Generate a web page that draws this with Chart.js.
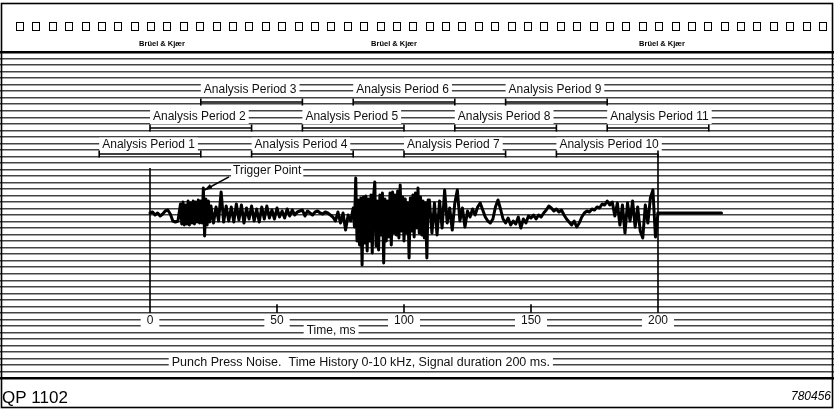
<!DOCTYPE html>
<html>
<head>
<meta charset="utf-8">
<script src="https://cdn.jsdelivr.net/npm/chart.js@4.4.1/dist/chart.umd.min.js"></script>
<style>
html, body { margin: 0; padding: 0; background: #fff; }
canvas { display: block; }
</style>
</head>
<body>
<canvas id="c" width="834" height="409"></canvas>
<script>
// ---- Punch press noise: time history, 0-10 kHz, 200 ms record ----
// The record is stored as blocks of equally spaced samples (arbitrary amplitude units);
// the impact bursts are sampled twice as finely as the quieter stretches.

// 0-11 ms: pen at rest, then a small drop just before the first impact
const ampLead = [0, 1, -2, 0, -3, -1, 2, 3, -1, -8, -9, -8];

// 12-23.5 ms: first impact, 0.5 ms spacing
const ampBurst1 = [
  9, -11, 11, -12, 8, -11, 12, -12, 10, -10, 12, -11,
  11, -9, 13, -10, 12, -10, 25, -23, 14, -12, 12, -9
];

// 24-79 ms: decaying ring-down
const ampRing = [
  7, -10, 6, -8, 21, -9,
  7, -8, 6, -9, 9, -7, 8, -10, 5, -6,
  7, -8, 4, -9, 6, -6, 7, -5, 3, -6,
  5, -4, 2, -5, 4, -3, 3, -2, 1, 2,
  3, -3, 2, 0, -2, 1, 2, 0, -1, 1,
  0, -2, -4, -8, 1, -10, 0, -17, -2, -8
];

// 80-109.5 ms: main punch impact, 0.5 ms spacing
const ampBurst2 = [
  5, -14, 35, -28, 13, -32, 15, -52, 16, -30,
  17, -38, 14, -28, 18, -40, 16, 31, -33, 12,
  -37, 18, -22, 20, -50, 14, -28, 12, -24, 20,
  -32, 21, -20, 18, -22, 22, -25, 28, -18, 16,
  -28, 14, -20, 10, -45, 15, -18, 18, -24, 20,
  -15, 25, -20, 16, -22, 12, -25, 10, -45, 13
];

// 110-200 ms: tail of the impact, stripper return near the end
const ampTail = [
  13, -20, 10, -22, 12, -15, 23, -10, 5, -17,
  10, 23, -8, 5, -14, 2, -4, 4, -2, 6,
  10, 3, -4, -8, -10, -6, 6, 13, 4, -6,
  -10, -5, -12, -8, -11, -4, -15, -6, -10, -3,
  -5, -2, -6, -2, -4, 0, 3, 7, 5, 2,
  4, 1, 3, -2, -6, -9, -12, -8, -14, -10,
  -4, 0, 2, 1, 4, 3, 6, 5, 9, 8,
  12, 8, 11, -3, 10, -12, 8, -20, 10, -8,
  12, -14, 6, -18, -25, 8, -10, 15, 23, -24,
  0
];

const blockStartMs = [0, 12, 24, 80, 110];
const blockStepMs  = [1, 0.5, 1, 0.5, 1];
const blockAmp     = [ampLead, ampBurst1, ampRing, ampBurst2, ampTail];

// the pen keeps running at rest after the record ends
const restMs = [200, 225];
const restAmp = [0, 0];

// overlapping analysis windows (ms)
const periodNames = [
  'Analysis Period 1', 'Analysis Period 2', 'Analysis Period 3',
  'Analysis Period 4', 'Analysis Period 5', 'Analysis Period 6',
  'Analysis Period 7', 'Analysis Period 8', 'Analysis Period 9',
  'Analysis Period 10', 'Analysis Period 11'
];
const periodStart = [-20, 0, 20, 40, 60, 80, 100, 120, 140, 160, 180];
const periodEnd   = [20, 40, 60, 80, 100, 120, 140, 160, 180, 200, 220];

// time axis
const timeTicks = [0, 50, 100, 150, 200];
const timeTickLabels = ['0', '50', '100', '150', '200'];
const triggerMs = 21.5;

// ---- paper geometry ----
const PX_PER_MS = 2.54;
const ZERO_PX = 150;
const ROW_PX = 6.52;        // pitch of the ruled lines
const FIRST_ROW_PX = 52;
const BASE_PX = 213;        // resting pen position
const W = 834, H = 409;
const rowLines = Array.from({ length: 51 }, (_, i) => i);

const laneText = [5.83, 9.97, 14.2];
const laneBracket = [7.67, 11.66, 15.64];
const FONT = '"Liberation Sans", Arial, Helvetica, sans-serif';

const signalData = [];
blockAmp.forEach((amps, b) => {
  amps.forEach((a, i) => signalData.push({ x: blockStartMs[b] + i * blockStepMs[b], y: a }));
});
const restData = restMs.map((t, i) => ({ x: t, y: restAmp[i] }));

const penLine = {
  borderColor: '#000', borderWidth: 3, pointRadius: 0,
  borderJoinStyle: 'round', borderCapStyle: 'round', tension: 0,
  xAxisID: 'x', yAxisID: 'amp'
};

const bracketSets = periodNames.map((name, i) => {
  const lane = 2 - (i % 3);
  return {
    label: name,
    data: [{ x: periodStart[i], y: laneBracket[lane] }, { x: periodEnd[i], y: laneBracket[lane] }],
    borderColor: '#000', borderWidth: 1.6,
    pointStyle: 'line', rotation: 90, pointRadius: 3.5,
    pointBorderWidth: 1.6, pointBorderColor: '#000',
    xAxisID: 'x', yAxisID: 'row'
  };
});

const frameLine = (t, r0, r1, w) => ({
  data: [{ x: t, y: r0 }, { x: t, y: r1 }],
  borderColor: '#000', borderWidth: w, pointRadius: 0,
  xAxisID: 'x', yAxisID: 'row'
});

const frameSets = [
  frameLine(0, 17.8, 40, 1.6),
  frameLine(200, 15.64, 40, 1.6),
  ...timeTicks.slice(1, -1).map(t => frameLine(t, 38.7, 40, 1.6))
];

function boxedText(ctx, text, x, y, align, pad) {
  ctx.textAlign = align;
  const w = ctx.measureText(text).width;
  const left = align === 'center' ? x - w / 2 : x;
  ctx.fillStyle = '#fff';
  ctx.fillRect(left - pad, y - 7, w + 2 * pad, 14);
  ctx.fillStyle = '#111';
  ctx.fillText(text, x, y);
}

const paper = {
  id: 'paper',
  beforeDraw(chart) {
    const ctx = chart.ctx;
    ctx.save();
    ctx.fillStyle = '#fff';
    ctx.fillRect(0, 0, W, H);
    ctx.restore();
  },
  beforeDatasetsDraw(chart) {
    const ctx = chart.ctx;
    const xs = chart.scales.x, rs = chart.scales.row;
    ctx.save();
    ctx.textBaseline = 'middle';

    // window captions
    ctx.font = '12px ' + FONT;
    periodNames.forEach((name, i) => {
      const lane = 2 - (i % 3);
      boxedText(ctx, name, xs.getPixelForValue(periodStart[i]) + 3, rs.getPixelForValue(laneText[lane]), 'left', 3);
    });

    // time axis labels
    timeTicks.forEach((t, i) => {
      boxedText(ctx, timeTickLabels[i], xs.getPixelForValue(t), rs.getPixelForValue(41.26), 'center', 6);
    });
    boxedText(ctx, 'Time, ms', xs.getPixelForValue(71.3), rs.getPixelForValue(42.8), 'center', 3);
    ctx.font = '12.5px ' + FONT;
    boxedText(ctx, 'Punch Press Noise.  Time History 0-10 kHz, Signal duration 200 ms.',
      xs.getPixelForValue(83), rs.getPixelForValue(47.7), 'center', 3);

    // trigger marker
    ctx.font = '12px ' + FONT;
    const tx = xs.getPixelForValue(32.7), ty = rs.getPixelForValue(18.25);
    boxedText(ctx, 'Trigger Point', tx, ty, 'left', 2);
    const ax0 = xs.getPixelForValue(31.1), ay0 = rs.getPixelForValue(19.15);
    const ax1 = xs.getPixelForValue(triggerMs), ay1 = rs.getPixelForValue(21.17);
    ctx.strokeStyle = '#000';
    ctx.lineWidth = 1.6;
    ctx.beginPath();
    ctx.moveTo(ax0, ay0);
    ctx.lineTo(ax1, ay1);
    ctx.stroke();
    const ang = Math.atan2(ay1 - ay0, ax1 - ax0);
    ctx.fillStyle = '#000';
    ctx.beginPath();
    ctx.moveTo(ax1, ay1);
    ctx.lineTo(ax1 - 8 * Math.cos(ang - 0.35), ay1 - 8 * Math.sin(ang - 0.35));
    ctx.lineTo(ax1 - 8 * Math.cos(ang + 0.35), ay1 - 8 * Math.sin(ang + 0.35));
    ctx.closePath();
    ctx.fill();
    ctx.restore();
  },
  afterDraw(chart) {
    const ctx = chart.ctx;
    ctx.save();
    // sprocket holes along the paper edge
    ctx.strokeStyle = '#000';
    ctx.lineWidth = 1;
    const holes = 50, hx0 = 20, hx1 = 823;
    for (let i = 0; i < holes; i++) {
      const cx = hx0 + (hx1 - hx0) * i / (holes - 1);
      ctx.strokeRect(Math.round(cx - 4) + 0.5, 22.5, 7, 8);
    }
    // maker's imprint
    ctx.fillStyle = '#000';
    ctx.font = 'bold 7.5px ' + FONT;
    ctx.textAlign = 'center';
    ctx.textBaseline = 'middle';
    [162, 394, 662].forEach(x => ctx.fillText('Brüel & Kjær', x, 44));

    // paper outline
    ctx.lineWidth = 1.6;
    ctx.strokeRect(1.5, 3.5, W - 3, H - 5);

    // chart number and drawing number
    ctx.textAlign = 'left';
    ctx.font = '17px ' + FONT;
    ctx.fillText('QP 1102', 2, 398);
    ctx.textAlign = 'right';
    ctx.font = 'italic 12px ' + FONT;
    ctx.fillText('780456', 831, 397);
    ctx.restore();
  }
};

new Chart(document.getElementById('c'), {
  type: 'line',
  data: {
    datasets: [
      { label: 'signal', data: signalData, ...penLine },
      { label: 'rest', data: restData, ...penLine },
      ...frameSets,
      ...bracketSets
    ]
  },
  options: {
    responsive: false,
    animation: false,
    devicePixelRatio: 1,
    layout: { padding: 0, autoPadding: false },
    plugins: { legend: { display: false }, tooltip: { enabled: false } },
    scales: {
      x: {
        type: 'linear', display: false,
        min: -ZERO_PX / PX_PER_MS, max: (W - ZERO_PX) / PX_PER_MS
      },
      amp: {
        type: 'linear', display: false, position: 'right',
        min: BASE_PX - H, max: BASE_PX
      },
      row: {
        type: 'linear', position: 'left', reverse: true,
        min: -FIRST_ROW_PX / ROW_PX, max: (H - FIRST_ROW_PX) / ROW_PX,
        afterBuildTicks: (scale) => { scale.ticks = rowLines.map(v => ({ value: v })); },
        ticks: { display: false },
        border: { display: false },
        grid: {
          drawTicks: false,
          color: (c) => (c.tick && (c.tick.value === 0 || c.tick.value === 50)) ? '#000' : '#444',
          lineWidth: (c) => (c.tick && (c.tick.value === 0 || c.tick.value === 50)) ? 2.4 : 1.4
        }
      }
    }
  },
  plugins: [paper]
});
</script>
</body>
</html>
